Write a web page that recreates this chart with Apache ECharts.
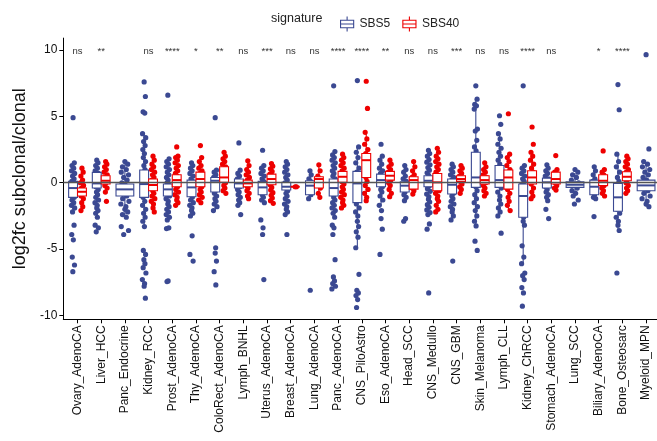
<!DOCTYPE html>
<html><head><meta charset="utf-8">
<script src="https://cdn.jsdelivr.net/npm/echarts@6/dist/echarts.min.js"></script>
<style>html,body{margin:0;padding:0;background:#fff}#c{width:657px;height:441px}</style>
</head><body><div id="c"></div>
<script>
const categories = ["Ovary_AdenoCA","Liver_HCC","Panc_Endocrine","Kidney_RCC","Prost_AdenoCA","Thy_AdenoCA","ColoRect_AdenoCA","Lymph_BNHL","Uterus_AdenoCA","Breast_AdenoCA","Lung_AdenoCA","Panc_AdenoCA","CNS_PiloAstro","Eso_AdenoCA","Head_SCC","CNS_Medullo","CNS_GBM","Skin_Melanoma","Lymph_CLL","Kidney_ChRCC","Stomach_AdenoCA","Lung_SCC","Biliary_AdenoCA","Bone_Osteosarc","Myeloid_MPN"];
const sigLabels = ["ns","**","","ns","****","*","**","ns","***","ns","ns","****","****","**","ns","ns","***","ns","ns","****","ns","","*","****",""];
const yTicks = [-10,-5,0,5,10];
// box stats: [lower whisker, q1, median, q3, upper whisker]
const sbs5Box = [
 [-2.2,-1.1,-0.4,0.1,1.5],[-2.6,-0.4,-0.05,0.78,1.7],[-2.6,-1.0,-0.5,-0.1,1.6],[-3.3,-1.1,-0.1,0.96,3.7],
 [-2.8,-1.0,-0.5,-0.1,1.8],[-2.5,-1.05,-0.35,0.2,1.5],[-2.1,-0.7,0.15,0.4,0.95],[-1.7,-0.4,-0.05,0.28,0.95],
 [-1.5,-0.9,-0.35,0.1,1.3],[-2.4,-0.55,-0.3,0.03,1.6],[-1.2,-0.9,-0.22,0.15,0.9],[-2.6,-1.0,-0.4,0.28,2.35],
 [-4.9,-1.5,-0.05,0.86,2.7],[-1.7,-0.3,0.2,0.65,2.0],[-1.35,-0.7,-0.22,0.08,1.3],[-2.4,-0.3,0.15,0.53,1.75],
 [-2.8,-0.85,-0.15,0.28,1.4],[-3.25,-0.35,0.4,2.3,6.3],[-2.5,-0.35,0.2,1.3,3.7],[-6.1,-2.6,-1.0,-0.1,1.3],
 [-1.35,-0.4,0.03,0.35,1.35],[-0.95,-0.35,-0.15,0.08,0.7],[-1.2,-0.9,-0.3,0.2,1.2],[-3.6,-2.15,-1.1,-0.05,2.15],
 [-1.8,-0.6,-0.2,0.2,1.4]
];
const sbs40Box = [
 [-2.1,-1.0,-0.68,-0.4,1.1],[-0.7,-0.1,0.15,0.53,1.6],null,[-2.2,-0.6,-0.17,0.28,2.0],
 [-1.7,-0.3,0.2,0.6,1.9],[-1.5,-0.3,0.28,0.8,1.9],[-0.8,0.03,0.4,1.2,2.3],[-1.2,-0.3,-0.05,0.2,1.65],
 [-1.55,-0.15,0.28,0.65,1.45],[-0.3,-0.3,-0.3,-0.3,-0.3],[-1.1,-0.4,0.28,0.45,1.35],[-1.9,0.03,0.45,0.86,2.15],
 [-1.35,0.4,1.7,2.2,3.8],[-1.05,0.2,0.53,0.86,1.7],[-0.85,-0.48,0.2,0.45,1.6],[-2.2,-0.6,0.03,0.7,2.6],
 [-0.8,0.1,0.28,0.53,1.3],[-1.0,-0.1,0.2,0.53,1.5],[-2.1,-0.48,0.4,0.96,2.15],[-1.2,-0.1,0.4,0.9,2.3],
 [-0.55,-0.1,0.28,0.8,1.0],null,[-1.0,-0.22,0.15,0.6,1.0],[-0.8,0.15,0.45,0.83,2.0],
 null
];
const sbs5Points = [
 [4.9,1.5,1.3,1.1,0.9,0.7,0.5,0.3,0.1,0.0,-0.1,-0.2,-0.3,-0.4,-0.5,-0.6,-0.7,-0.8,-0.9,-1.1,-1.3,-1.5,-1.7,-1.9,-2.2,-3.2,-3.9,-4.3,-5.6,-6.2,-6.7],
 [1.7,1.5,1.3,1.1,0.9,0.7,0.5,0.3,0.1,-0.1,-0.3,-0.5,-0.7,-0.9,-1.1,-1.3,-1.5,-1.7,-1.9,-2.1,-2.3,-2.6,-3.2,-3.4,-3.7],
 [1.6,1.4,1.2,1.0,0.8,0.6,0.4,0.2,0.0,-0.2,-0.4,-0.6,-0.8,-1.0,-1.2,-1.4,-1.6,-1.8,-2.0,-2.2,-2.4,-2.6,-3.3,-3.6,-3.9],
 [7.6,6.5,5.35,5.25,3.7,3.4,3.1,2.8,2.5,2.2,1.9,1.6,1.3,1.0,0.7,0.4,0.1,-0.2,-0.5,-0.8,-1.1,-1.4,-1.7,-2.0,-2.3,-2.6,-2.9,-3.3,-5.1,-5.4,-5.8,-6.1,-6.4,-6.8,-7.3,-7.6,-7.8,-8.7],
 [6.6,1.8,1.6,1.4,1.2,1.0,0.8,0.6,0.4,0.2,0.0,-0.2,-0.4,-0.6,-0.8,-1.0,-1.2,-1.4,-1.6,-1.8,-2.0,-2.2,-2.4,-2.6,-2.8,-3.4,-3.45,-7.4,-7.45],
 [1.5,1.3,1.1,0.9,0.7,0.5,0.3,0.1,-0.1,-0.3,-0.5,-0.7,-0.9,-1.1,-1.3,-1.5,-1.7,-1.9,-2.1,-2.3,-2.5,-4.0,-5.4,-5.9],
 [4.9,0.95,0.8,0.6,0.4,0.2,0.0,-0.2,-0.4,-0.6,-0.8,-1.0,-1.2,-1.4,-1.6,-1.8,-2.1,-4.9,-5.3,-5.9,-6.7,-7.7],
 [3.0,0.95,0.7,0.5,0.3,0.1,-0.1,-0.3,-0.5,-0.7,-0.9,-1.1,-1.3,-1.5,-1.7,-2.4],
 [2.45,1.3,1.1,0.9,0.7,0.5,0.3,0.1,-0.1,-0.3,-0.5,-0.7,-0.9,-1.1,-1.3,-1.5,-2.8,-3.4,-3.9,-7.3],
 [1.6,1.4,1.2,1.0,0.8,0.6,0.4,0.2,0.0,-0.2,-0.4,-0.6,-0.8,-1.0,-1.2,-1.4,-1.6,-1.8,-2.0,-2.2,-2.4,-3.9],
 [0.9,0.6,0.3,0.1,-0.2,-0.4,-0.7,-0.9,-1.2,-8.1],
 [7.3,2.35,2.1,1.9,1.7,1.5,1.3,1.1,0.9,0.7,0.5,0.3,0.1,-0.1,-0.3,-0.5,-0.7,-0.9,-1.1,-1.3,-1.5,-1.7,-1.9,-2.1,-2.3,-2.6,-3.2,-3.4,-3.9,-5.8,-7.1,-7.4,-7.6,-7.8,-8.0],
 [7.7,2.7,2.3,1.9,1.5,1.1,0.8,0.5,0.2,-0.1,-0.4,-0.7,-1.0,-1.3,-1.6,-1.9,-2.2,-2.5,-2.9,-3.3,-3.7,-4.1,-4.9,-6.9,-8.1,-8.3,-8.5,-8.8,-9.4],
 [2.9,2.0,1.7,1.4,1.1,0.9,0.7,0.5,0.3,0.1,-0.1,-0.3,-0.5,-0.7,-1.0,-1.3,-1.7,-2.1,-2.7,-3.5,-5.4],
 [1.3,1.0,0.8,0.5,0.3,0.1,-0.1,-0.3,-0.5,-0.7,-0.9,-1.1,-1.35,-2.7,-2.9],
 [2.45,2.2,2.0,1.75,1.55,1.35,1.15,0.95,0.75,0.55,0.35,0.15,-0.05,-0.25,-0.45,-0.65,-0.85,-1.05,-1.25,-1.45,-1.65,-1.85,-2.05,-2.25,-2.4,-3.1,-3.5,-8.3],
 [1.4,1.2,1.0,0.8,0.6,0.4,0.2,0.0,-0.2,-0.4,-0.6,-0.8,-1.0,-1.2,-1.4,-1.6,-1.8,-2.0,-2.2,-2.5,-2.8,-5.9],
 [7.3,6.3,5.9,5.8,5.55,4.05,3.9,3.2,2.7,2.4,2.1,1.8,1.5,1.2,0.9,0.6,0.3,0.0,-0.3,-0.6,-0.9,-1.2,-1.5,-1.8,-2.1,-2.5,-2.9,-3.25,-4.4,-5.1],
 [5.05,4.4,3.7,3.3,2.9,2.6,2.3,2.0,1.7,1.4,1.1,0.8,0.5,0.2,-0.1,-0.4,-0.7,-1.0,-1.3,-1.6,-1.9,-2.2,-2.5,-3.8],
 [7.3,1.3,1.1,0.9,0.7,0.5,0.3,0.1,-0.1,-0.3,-0.5,-0.8,-1.1,-1.4,-1.7,-2.0,-2.3,-2.6,-2.9,-3.2,-4.75,-5.6,-6.1,-6.8,-7.0,-7.3,-7.9,-8.3,-9.3],
 [1.35,1.1,0.9,0.7,0.5,0.3,0.1,-0.1,-0.3,-0.5,-0.7,-0.9,-1.1,-1.35,-2.0,-2.7],
 [1.0,0.8,0.6,0.4,0.2,0.0,-0.2,-0.4,-0.6,-0.8,-1.0,-1.3,-1.6],
 [1.2,0.9,0.6,0.3,0.1,-0.1,-0.3,-0.5,-0.7,-0.9,-1.1,-1.2,-2.55],
 [7.4,5.5,2.15,1.6,1.2,0.8,0.4,0.1,-0.2,-0.5,-0.8,-1.1,-1.4,-1.7,-2.0,-2.3,-2.6,-2.9,-3.2,-3.6,-6.8],
 [9.65,2.55,1.6,1.4,1.2,1.0,0.8,0.6,0.4,0.2,0.0,-0.2,-0.4,-0.6,-0.8,-1.0,-1.2,-1.4,-1.6,-1.8]
];
const sbs40Points = [
 [1.1,0.8,0.5,0.2,0.0,-0.2,-0.4,-0.5,-0.6,-0.8,-1.0,-1.2,-1.5,-1.8,-2.1],
 [1.6,1.4,1.2,1.0,0.8,0.6,0.4,0.2,0.1,0.0,-0.2,-0.4,-0.7,-1.4],
 [],
 [2.0,1.7,1.4,1.2,1.0,0.8,0.6,0.4,0.2,0.0,-0.2,-0.4,-0.6,-0.8,-1.0,-1.2,-1.4,-1.6,-1.9,-2.2],
 [2.7,2.0,1.9,1.7,1.5,1.3,1.1,0.9,0.7,0.5,0.3,0.1,-0.1,-0.3,-0.5,-0.7,-0.9,-1.1,-1.3,-1.5,-1.7],
 [2.8,1.9,1.6,1.3,1.1,0.9,0.7,0.5,0.3,0.1,-0.1,-0.3,-0.5,-0.7,-0.9,-1.1,-1.3,-1.5],
 [2.3,2.0,1.8,1.6,1.4,1.2,1.0,0.8,0.6,0.4,0.2,0.0,-0.2,-0.4,-0.6,-0.8],
 [1.65,1.3,1.0,0.8,0.6,0.4,0.2,0.0,-0.2,-0.4,-0.6,-0.8,-1.0,-1.2],
 [1.45,1.25,1.05,0.85,0.65,0.45,0.25,0.05,-0.15,-0.35,-0.55,-0.75,-0.95,-1.15,-1.35,-1.55],
 [-0.3,-0.3],
 [1.35,0.9,0.5,0.3,0.0,-0.4,-0.8,-1.1],
 [2.15,1.9,1.7,1.5,1.3,1.1,0.9,0.7,0.5,0.3,0.1,-0.1,-0.3,-0.5,-0.7,-0.9,-1.1,-1.3,-1.5,-1.7,-1.9],
 [7.65,5.6,3.8,3.3,2.9,2.5,2.2,1.9,1.6,1.3,1.0,0.7,0.4,0.1,-0.2,-0.5,-0.8,-1.1,-1.35],
 [1.7,1.4,1.2,1.0,0.8,0.6,0.4,0.2,0.0,-0.2,-0.5,-0.8,-1.05],
 [1.6,1.2,0.9,0.6,0.4,0.2,0.0,-0.2,-0.4,-0.6,-0.85],
 [2.6,2.3,2.0,1.8,1.6,1.4,1.2,1.0,0.8,0.6,0.4,0.2,0.0,-0.2,-0.4,-0.6,-0.8,-1.0,-1.2,-1.4,-1.7,-2.0,-2.2],
 [1.3,1.1,0.9,0.7,0.5,0.3,0.1,-0.1,-0.3,-0.5,-0.8],
 [1.5,1.2,1.0,0.8,0.6,0.4,0.2,0.0,-0.2,-0.4,-0.6,-0.8,-1.0],
 [5.2,2.15,1.9,1.6,1.3,1.0,0.7,0.4,0.1,-0.2,-0.5,-0.8,-1.1,-1.4,-1.7,-2.1],
 [4.2,2.9,2.3,2.0,1.7,1.4,1.1,0.8,0.5,0.2,-0.1,-0.4,-0.7,-1.0,-1.2],
 [2.05,1.0,0.8,0.6,0.4,0.2,0.0,-0.2,-0.4,-0.55],
 [],
 [2.4,1.0,0.8,0.6,0.4,0.2,0.0,-0.2,-0.4,-0.6,-0.8,-1.0],
 [2.0,1.8,1.6,1.4,1.2,1.0,0.8,0.6,0.4,0.2,0.0,-0.2,-0.4,-0.6,-0.8],
 []
];

const BLUE = '#3B4992', RED = '#EE0000';
const FONT = '"Liberation Sans", Arial, Helvetica, sans-serif';
const JIT = [0,0.7,-0.6,0.35,-0.9,0.9,-0.3,0.55,-0.75,0.15,-0.45,0.8,-0.15,0.45,-0.55,1.0,-1.0,0.25];
const hasBoth = categories.map((_, i) => !!sbs40Box[i] && !!sbs5Box[i]);
function dodge(c, s){ return hasBoth[c] ? (s === 0 ? -0.1875 : 0.1875) : 0; }
function boxHalf(c){ return hasBoth[c] ? 0.1875 : 0.375; }
function jitHalf(c){ return hasBoth[c] ? 0.075 : 0.17; }

function pointsData(pts){ const out=[]; pts.forEach((arr,c)=>arr.forEach((v,k)=>out.push([c,v,k]))); return out; }
function boxData(b){ const out=[]; b.forEach((s,c)=>{ if(s) out.push([c].concat(s)); }); return out; }

function pointRender(s, color){
  return function(params, api){
    const c = api.value(0), v = api.value(1), k = api.value(2);
    const unit = api.size([1,0])[0];
    const p = api.coord([c, v]);
    const x = p[0] + (dodge(c,s) + JIT[k % JIT.length]*jitHalf(c))*unit;
    return {type:'circle', shape:{cx:x, cy:p[1], r:2.6}, style:{fill:color}};
  };
}
function boxRender(s, color){
  return function(params, api){
    const c = api.value(0);
    const unit = api.size([1,0])[0];
    const cx = api.coord([c,0])[0] + dodge(c,s)*unit;
    const h = boxHalf(c)*unit;
    const y = [1,2,3,4,5].map(i => api.coord([c, api.value(i)])[1]);
    const st = {stroke:color, lineWidth:1.1};
    return {type:'group', children:[
      {type:'line', shape:{x1:cx,y1:y[4],x2:cx,y2:y[3]}, style:st},
      {type:'line', shape:{x1:cx,y1:y[1],x2:cx,y2:y[0]}, style:st},
      {type:'rect', shape:{x:cx-h, y:y[3], width:2*h, height:Math.max(0,y[1]-y[3])}, style:{fill:'#fff', stroke:color, lineWidth:1.1}},
      {type:'line', shape:{x1:cx-h,y1:y[2],x2:cx+h,y2:y[2]}, style:{stroke:color, lineWidth:2}}
    ]};
  };
}
function sigRender(params, api){
  const c = api.value(0);
  const p = api.coord([c, 9.9]);
  return {type:'text', style:{text:sigLabels[c], x:p[0], y:p[1], align:'center', verticalAlign:'middle', fontSize:9.5, fontFamily:FONT, fill:'#333'}};
}

const catIdx = categories.map((_, i) => i);
const iconPath = 'path://M8,0L8,4M1,4L15,4L15,12L1,12ZM1,8L15,8M8,12L8,16';

const chart = echarts.init(document.getElementById('c'), null, {renderer:'canvas'});
chart.setOption({
  animation:false,
  backgroundColor:'#fff',
  textStyle:{fontFamily:FONT},
  grid:{left:63.3, top:38.1, width:597, height:281.2, containLabel:false, outerBoundsMode:'none'},
  legend:{
    left:335, top:11, itemWidth:15, itemHeight:15, itemGap:12,
    textStyle:{fontSize:12, color:'#222', fontFamily:FONT},
    data:[
      {name:'SBS5', icon:iconPath, itemStyle:{color:'#fff', borderColor:BLUE, borderWidth:1.1}},
      {name:'SBS40', icon:iconPath, itemStyle:{color:'#fff', borderColor:RED, borderWidth:1.1}}
    ],
    selectedMode:false
  },
  graphic:[{type:'text', left:271, top:12, style:{text:'signature', fontSize:12.5, fill:'#222', fontFamily:FONT}}],
  xAxis:{
    type:'value', min:-0.6, max:24.6,
    axisLine:{show:true, onZero:false, lineStyle:{color:'#000', width:1}},
    axisTick:{show:true, customValues:catIdx, length:4, lineStyle:{color:'#000'}},
    axisLabel:{show:true, customValues:catIdx, rotate:90, fontSize:12, color:'#111', margin:6, fontFamily:FONT,
      formatter:(v)=>categories[Math.round(v)]},
    splitLine:{show:false}
  },
  yAxis:{
    type:'value', min:-10.29, max:10.9,
    name:'log2fc subclonal/clonal', nameLocation:'middle', nameGap:32,
    nameTextStyle:{fontSize:18, color:'#111', fontFamily:FONT},
    axisLine:{show:true, onZero:false, lineStyle:{color:'#000', width:1}},
    axisTick:{show:true, customValues:yTicks, length:4, lineStyle:{color:'#000'}},
    axisLabel:{show:true, customValues:yTicks, fontSize:12, color:'#111', margin:6, fontFamily:FONT},
    splitLine:{show:false}
  },
  series:[
    {type:'line', data:[], z:1, silent:true,
      markLine:{silent:true, symbol:['none','none'], label:{show:false}, lineStyle:{color:'#555', width:1.3, type:'solid'}, data:[{yAxis:0}]}},
    {type:'custom', name:'SBS5', z:2, renderItem:pointRender(0, BLUE), data:pointsData(sbs5Points), encode:{x:0,y:1}, itemStyle:{color:BLUE}},
    {type:'custom', name:'SBS40', z:2, renderItem:pointRender(1, RED), data:pointsData(sbs40Points), encode:{x:0,y:1}, itemStyle:{color:RED}},
    {type:'custom', name:'SBS5', z:3, renderItem:boxRender(0, BLUE), data:boxData(sbs5Box), encode:{x:0,y:[1,2,3,4,5]}, itemStyle:{color:BLUE}},
    {type:'custom', name:'SBS40', z:3, renderItem:boxRender(1, RED), data:boxData(sbs40Box), encode:{x:0,y:[1,2,3,4,5]}, itemStyle:{color:RED}},
    {type:'custom', name:'sig', z:4, renderItem:sigRender, data:catIdx.map(i=>[i]), encode:{x:0}}
  ]
});
</script></body></html>
